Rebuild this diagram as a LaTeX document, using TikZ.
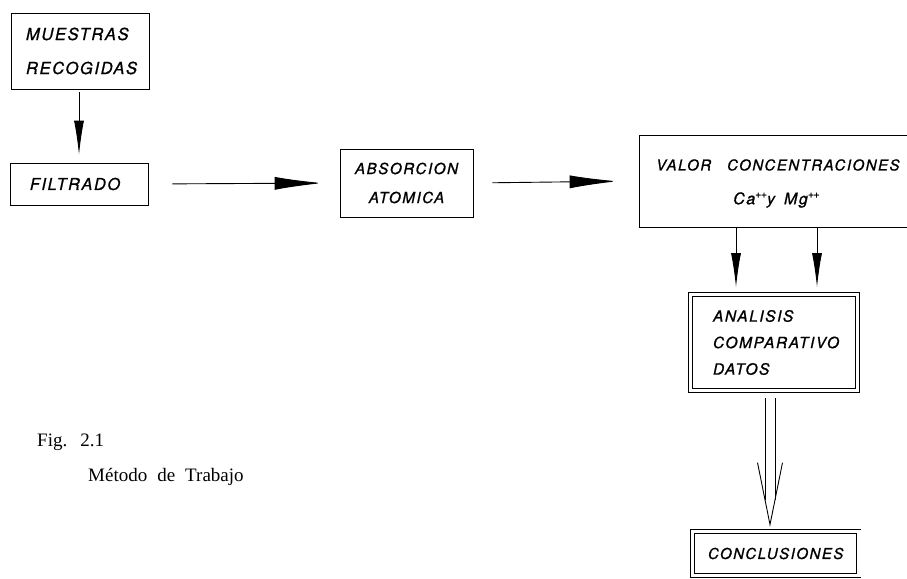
\documentclass[tikz,border=0pt]{standalone}
\usepackage{fontspec}
\setmainfont{Liberation Serif}
\newfontfamily\lbl[LetterSpace=10,FakeBold=0.9]{TeX Gyre Heros}
\newcommand{\pp}{\raisebox{6.5pt}{\fontsize{10.5}{10.5}\selectfont +\kern-0.5pt+}}
\usetikzlibrary{arrows.meta,calc}
\begin{document}
\begin{tikzpicture}[x=1pt,y=-1pt,
  box/.style={draw, line width=0.8pt, inner sep=0pt, font=\lbl\itshape\fontsize{15.5}{30}\selectfont},
  dbox/.style={box, double, double distance=3.4pt},
  txt/.style={inner sep=0pt, font=\lbl\itshape\fontsize{15}{30}\selectfont},
  captxt/.style={inner sep=0pt, font=\fontsize{19}{22}\selectfont},
  harr/.style={line width=0.9pt, -{Latex[length=48pt,width=13pt]}},
  varr/.style={line width=0.9pt, -{Latex[length=34pt,width=10pt]}},
  dline/.style={line width=0.9pt}]
\useasboundingbox (0,0) rectangle (907,578);
\clip (0,0) rectangle (907,578);

% boxes
\node[box, minimum width=138pt, minimum height=76pt, text width=108pt, align=left,
      font=\lbl\itshape\fontsize{16.5}{34}\selectfont] (mue) at (80,51) {MUESTRAS\\RECOGIDAS};
\node[box, minimum width=138pt, minimum height=42pt, align=center,
      font=\lbl\itshape\fontsize{16.3}{30}\selectfont] (fil) at (79,184) {\hspace{-8pt}FILTRADO};
\node[box, minimum width=133pt, minimum height=68pt, align=center,
      font=\lbl\itshape\fontsize{15.2}{29}\selectfont] (abs) at (406.5,183) {ABSORCION\\ATOMICA};
\node[box, minimum width=276pt, minimum height=92pt] (val) at (777,181) {};
\node[txt, anchor=west] (valt) at (656,165) {VALOR\hspace{16pt}CONCENTRACIONES};
\node[txt, anchor=west, font=\lbl\itshape\fontsize{16}{30}\selectfont] (valc) at (733,200) {Ca\pp y\hspace{9pt}Mg\pp};
\node[dbox, minimum width=167pt, minimum height=96pt, text width=122pt, align=left,
      font=\lbl\itshape\fontsize{15.5}{26.5}\selectfont] (ana) at (774,342.5) {ANALISIS\\COMPARATIVO\\DATOS};
\node[dbox, minimum width=166.5pt, minimum height=44pt, align=center,
      font=\lbl\itshape\fontsize{15}{30}\selectfont] (con) at (775.7,553.5) {CONCLUSIONES};

% captions
\node[captxt, anchor=base west] (fig) at (37,446) {Fig.\hspace{13pt}2.1};
\node[captxt, anchor=base west] (met) at (88,481) {Método\hspace{10pt}de\hspace{10pt}Trabajo};

% connectors
\draw[varr, shorten <=3pt, shorten >=8pt] (mue.south -| fil.north) -- (fil.north);
\draw[harr, shorten <=24pt, shorten >=17pt] (fil.east) -- (abs.west);
\draw[harr, shorten <=19pt, shorten >=21pt] (abs.east) -- (val.west);
\coordinate (c1) at (736,0);
\coordinate (c2) at (817,0);
\draw[varr, shorten >=7pt] (val.south -| c1) -- (ana.north -| c1);
\draw[varr, shorten >=7pt] (val.south -| c2) -- (ana.north -| c2);

% double open arrow
\coordinate (dtop) at ($(ana.south)+(-4,7)$);
\coordinate (dtip) at ($(con.north)+(-5.7,-6.5)$);
\draw[dline] ($(dtop)+(-5,0)$) -- ($(dtip)+(-5,-25)$);
\draw[dline] ($(dtop)+(5,0)$) -- ($(dtip)+(5,-25)$);
\draw[dline, line join=miter] ($(dtip)+(-12.5,-62)$) -- (dtip) -- ($(dtip)+(12.5,-62)$);
\end{tikzpicture}
\end{document}
